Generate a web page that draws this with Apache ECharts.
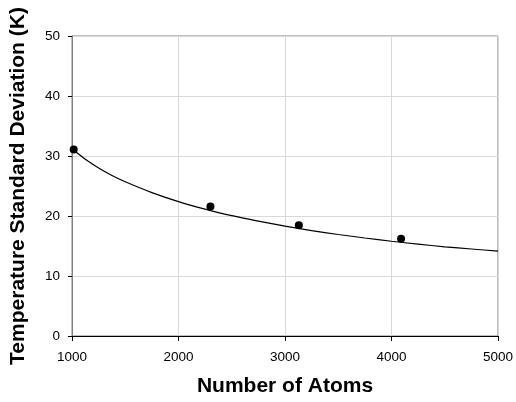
<!DOCTYPE html>
<html>
<head>
<meta charset="utf-8">
<script src="https://cdn.jsdelivr.net/npm/echarts@6/dist/echarts.min.js"></script>
<style>
  html, body { margin: 0; padding: 0; background: #fff; }
  #chart { width: 516px; height: 402px; }
</style>
</head>
<body>
<div id="chart"></div>
<script>
// Measured standard deviation of temperature versus system size
const atomCounts = [1016, 2300, 3130, 4090];
const tempStdDev = [31.1, 21.6, 18.45, 16.2];

// Fitted trend curve sampled along the size axis
const fitAtoms = [1000, 1125, 1250, 1375, 1500, 1750, 2000, 2250, 2500, 2750, 3000,
                  3250, 3500, 3750, 4000, 4250, 4500, 4750, 5000];
const fitStdDev = [31.2, 29.45, 28.0, 26.75, 25.7, 23.9, 22.4, 21.15, 20.05, 19.15, 18.3,
                   17.57, 16.92, 16.33, 15.79, 15.31, 14.87, 14.5, 14.15];

const xTicks = { min: 1000, max: 5000, step: 1000 };
const yTicks = { min: 0, max: 50, step: 10 };

const chart = echarts.init(document.getElementById('chart'), null, { renderer: 'canvas' });

const font = 'Liberation Sans, Arial, sans-serif';

chart.setOption({
  animation: false,
  grid: {
    left: 71, right: 18, top: 36, bottom: 66,
    show: true, borderColor: '#808080', borderWidth: 1, backgroundColor: 'transparent'
  },
  xAxis: {
    type: 'value',
    min: xTicks.min, max: xTicks.max, interval: xTicks.step,
    name: 'Number of Atoms',
    nameLocation: 'middle',
    nameGap: 40,
    nameTextStyle: { fontFamily: font, fontSize: 21, fontWeight: 'bold', color: '#000' },
    axisLine: { show: true, onZero: false, lineStyle: { color: '#000', width: 1 } },
    axisTick: { show: true, inside: false, length: 5, lineStyle: { color: '#000' } },
    axisLabel: { fontFamily: font, fontSize: 13.5, color: '#000', margin: 14, formatter: v => String(v) },
    splitLine: { show: true, lineStyle: { color: '#d9d9d9', width: 1 } }
  },
  yAxis: {
    type: 'value',
    min: yTicks.min, max: yTicks.max, interval: yTicks.step,
    name: 'Temperature Standard Deviation (K)',
    nameLocation: 'middle',
    nameGap: 43,
    nameTextStyle: { fontFamily: font, fontSize: 21, fontWeight: 'bold', color: '#000' },
    axisLine: { show: true, onZero: false, lineStyle: { color: '#808080', width: 1 } },
    axisTick: { show: true, inside: false, length: 4, lineStyle: { color: '#000' } },
    axisLabel: { fontFamily: font, fontSize: 13.5, color: '#000', margin: 12 },
    splitLine: { show: true, lineStyle: { color: '#d9d9d9', width: 1 } }
  },
  series: [
    {
      type: 'line',
      data: fitAtoms.map((n, i) => [n, fitStdDev[i]]),
      smooth: 0.2,
      showSymbol: false,
      lineStyle: { color: '#000', width: 1.2 },
      z: 2
    },
    {
      type: 'scatter',
      data: atomCounts.map((n, i) => [n, tempStdDev[i]]),
      symbol: 'circle',
      symbolSize: 8,
      itemStyle: { color: '#000', opacity: 1 },
      z: 3
    }
  ]
});
</script>
</body>
</html>
